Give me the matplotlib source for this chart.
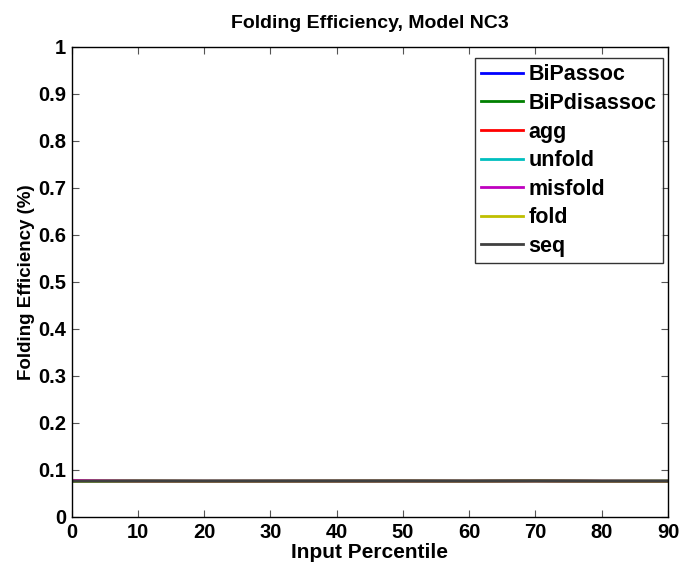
import matplotlib.pyplot as plt

plt.rcParams['font.family'] = ['Liberation Sans', 'DejaVu Sans']
plt.rcParams['font.weight'] = 'bold'

# percentiles on the x axis
percentile = [0, 10, 20, 30, 40, 50, 60, 70, 80, 90]

# folding efficiency per model variant (all near 0.076)
BiPassoc    = [0.0760, 0.0765, 0.0763, 0.0764, 0.0765, 0.0766, 0.0764, 0.0770, 0.0763, 0.0762]
BiPdisassoc = [0.0758, 0.0762, 0.0760, 0.0761, 0.0762, 0.0763, 0.0761, 0.0767, 0.0760, 0.0765]
agg         = [0.0762, 0.0764, 0.0762, 0.0763, 0.0764, 0.0765, 0.0763, 0.0768, 0.0762, 0.0761]
unfold      = [0.0759, 0.0763, 0.0761, 0.0762, 0.0763, 0.0764, 0.0762, 0.0768, 0.0761, 0.0760]
misfold     = [0.0780, 0.0762, 0.0760, 0.0761, 0.0762, 0.0763, 0.0761, 0.0766, 0.0760, 0.0759]
fold        = [0.0761, 0.0764, 0.0762, 0.0763, 0.0764, 0.0765, 0.0763, 0.0767, 0.0762, 0.0761]
seq         = [0.0763, 0.0766, 0.0764, 0.0765, 0.0766, 0.0767, 0.0765, 0.0769, 0.0764, 0.0763]

series = [
    ('BiPassoc', BiPassoc, '#0000ff'),
    ('BiPdisassoc', BiPdisassoc, '#008000'),
    ('agg', agg, '#ff0000'),
    ('unfold', unfold, '#00bfbf'),
    ('misfold', misfold, '#bf00bf'),
    ('fold', fold, '#bfbf00'),
    ('seq', seq, '#404040'),
]

fig = plt.figure(figsize=(6.83, 5.69), dpi=100)
ax = fig.add_axes([0.105, 0.0914, 0.873, 0.826])

for name, vals, col in series:
    ax.plot(percentile, vals, color=col, lw=2, label=name)

ax.set_xlim(0, 90)
ax.set_ylim(0, 1)
ax.set_xticks(range(0, 91, 10))
ax.set_yticks([i / 10 for i in range(11)])
ax.set_yticklabels(['0', '0.1', '0.2', '0.3', '0.4', '0.5', '0.6', '0.7', '0.8', '0.9', '1'])
ax.tick_params(direction='in', top=True, right=True, labelsize=14.5, length=5,
               width=0.8, color='#555555', pad=4)
for s in ax.spines.values():
    s.set_linewidth(1.0)

ax.set_xlabel('Input Percentile', fontsize=15, fontweight='bold', labelpad=1)
ax.set_ylabel('Folding Efficiency (%)', fontsize=13.5, fontweight='bold', labelpad=2)
ax.set_title('Folding Efficiency, Model NC3', fontsize=14, fontweight='bold', pad=14)

leg = ax.legend(loc='upper right', bbox_to_anchor=(0.9916, 0.9766), borderaxespad=0,
                fontsize=15.5, frameon=True, fancybox=False, edgecolor='black',
                handlelength=1.94, handletextpad=0.25, labelspacing=0.35,
                borderpad=0.3)
leg.get_frame().set_linewidth(1.0)

fig.savefig('out.png', dpi=100)
